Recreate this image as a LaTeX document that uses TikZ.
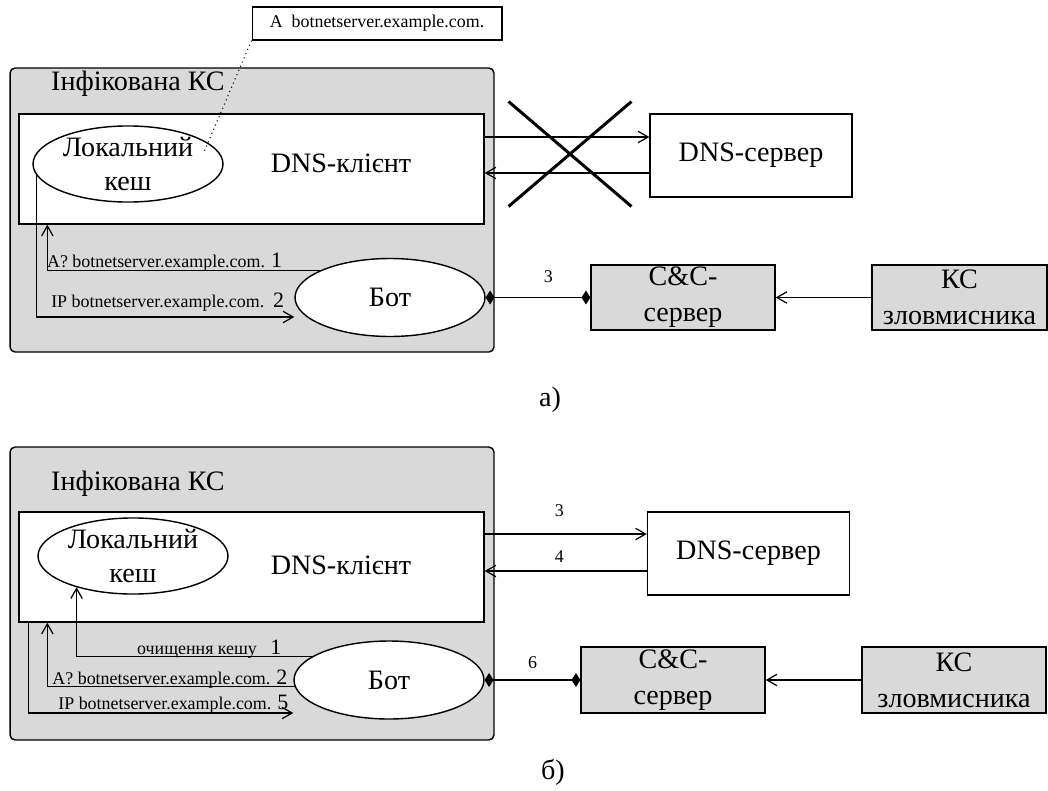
\documentclass[tikz,border=0pt]{standalone}
\usepackage{fontspec}
\setmainfont{Liberation Serif}
\usepackage{tikz}
\usetikzlibrary{
	arrows.meta,shapes.geometric,shapes.misc,calc
}

\definecolor{ksgray}{HTML}{D9D9D9}
\newcommand{\bigtxt}{\fontsize{16}{19.5}\selectfont}
\newcommand{\boxtxt}{\fontsize{16}{20.5}\selectfont}
\newcommand{\smalltxt}{\fontsize{10.2}{12}\selectfont}
\newcommand{\numtxt}{\fontsize{12.5}{12.5}\selectfont}

\tikzset{
	host/.style={draw, fill=ksgray, rounded corners=0.1cm, line width=0.8pt},
	client/.style={draw, fill=white, line width=0.8pt},
	cache/.style={ellipse, draw, fill=white, line width=0.8pt, minimum width=3.8cm,
		minimum height=1.4cm, inner sep=0pt, align=center, font=\bigtxt},
	bot/.style={ellipse, draw, fill=white, line width=0.8pt, minimum width=3.8cm,
		minimum height=1.56cm, font=\bigtxt},
	srv/.style={draw, fill=white, line width=0.8pt, minimum width=4.04cm,
		minimum height=1.66cm, font=\bigtxt},
	ccbox/.style={draw, fill=ksgray, line width=0.8pt, minimum height=1.3cm,
		inner sep=0pt, align=center, font=\boxtxt},
	msg/.style={font=\smalltxt, inner sep=1pt},
	arr/.style={-{Straight Barb[length=5.7pt,width=6.5pt]}, line width=0.7pt},
	link/.style={{Diamond[length=5pt,width=8pt]}-{Diamond[length=5pt,width=8pt]}, line width=0.7pt},
}

\begin{document}
\begin{tikzpicture}[x=0.02cm, y=-0.02cm]
	\useasboundingbox (0,0) rectangle (1048,791);
	% a)
	\node[host, minimum width=9.68cm, minimum height=5.68cm] (infa) at (252,210) {};
	\node[anchor=base west, font=\bigtxt] (titlea) at (45,90) {Інфікована КС};
	\node[client, minimum width=9.3cm, minimum height=2.2cm] (dnsa) at (251.5,169) {};
	\node[font=\bigtxt] (dnstxta) at (341,163) {DNS-клієнт};
	\node[cache] (cachea) at (128,164) {Локальний\\кеш};
	\node[bot] (bota) at (390,297.5) {Бот};
	\node[srv] (srva) at (751,155.5) {DNS-сервер};
	\node[ccbox, minimum width=3.68cm] (cca) at (683,297.5) {C\&C-\\сервер};
	\node[ccbox, minimum width=3.5cm] (kca) at (959.5,297.5) {КС\\зловмисника};
	\node[draw, line width=0.6pt, minimum width=5cm, minimum height=0.66cm, font=\smalltxt]
		(reca) at (377,23.5) {A\ \ botnetserver.example.com.};
	\node[cross out, draw, line width=1.7pt, minimum width=2.4cm, minimum height=2.04cm]
		(blocka) at (570,154) {};
	\node[font=\bigtxt] (capa) at (550,400) {а)};
	\coordinate (hita) at (204,152);
	%
	\draw[dotted, line width=0.6pt] (reca.south west) -- (hita);
	\path[arr]
	(dnsa.east |- 0,137) edge (srva.west |- 0,137)
	(srva.west |- 0,173) edge (dnsa.east |- 0,173)
	(kca.west) edge (cca.east);
	\path[link] (bota.east) edge node[msg, above=7pt, pos=0.6]{3} (cca.west);
	\draw[arr] (bota.159) -| ($(dnsa.south west)+(29,0)$)
		node[msg, pos=0.065, anchor=base east, yshift=2pt]{A? botnetserver.example.com. {\numtxt 1}};
	\draw[arr] (cachea.187) |- ([yshift=-0.39cm]bota.west)
		node[msg, pos=0.985, anchor=base east, yshift=5.5pt]{IP botnetserver.example.com.\ \ {\numtxt 2}};
	% b)
	\node[host, minimum width=9.68cm, minimum height=5.86cm] (infb) at (252,593.5) {};
	\node[anchor=base west, font=\bigtxt] (titleb) at (45,490) {Інфікована КС};
	\node[client, minimum width=9.3cm, minimum height=2.2cm] (dnsb) at (251.5,567) {};
	\node[font=\bigtxt] (dnstxtb) at (341,565) {DNS-клієнт};
	\node[cache] (cacheb) at (133,556) {Локальний\\кеш};
	\node[bot] (botb) at (389,680) {Бот};
	\node[srv] (srvb) at (748.5,553.5) {DNS-сервер};
	\node[ccbox, minimum width=3.68cm, minimum height=1.32cm] (ccb) at (673,680) {C\&C-\\сервер};
	\node[ccbox, minimum width=3.68cm, minimum height=1.32cm] (kcb) at (954,680) {КС\\зловмисника};
	\node[font=\bigtxt] (capb) at (553,772) {б)};
	%
	\path[arr]
	(dnsb.east |- 0,534) edge node[msg, above=8.5pt, pos=0.46]{3} (srvb.west |- 0,534)
	(srvb.west |- 0,571) edge node[msg, above=3.5pt, pos=0.54]{4} (dnsb.east |- 0,571)
	(kcb.west) edge (ccb.east);
	\path[link] (botb.east) edge node[msg, above=5pt, pos=0.5]{6} (ccb.west);
	\draw[arr] (botb.163) -| (cacheb.209)
		node[msg, pos=0.06, anchor=base east, yshift=1pt]{очищення кешу\ \ \ {\numtxt 1}};
	\draw[arr] (botb.184) -| ($(dnsb.south west)+(29,0)$)
		node[msg, pos=0.01, anchor=base east, yshift=1pt]{A? botnetserver.example.com. {\numtxt 2}};
	\draw[arr] ($(dnsb.south west)+(10,0)$) |- ([yshift=-0.66cm]botb.west)
		node[msg, pos=0.995, anchor=base east, yshift=2pt]{IP botnetserver.example.com. {\numtxt 5}};
\end{tikzpicture}
\end{document}
